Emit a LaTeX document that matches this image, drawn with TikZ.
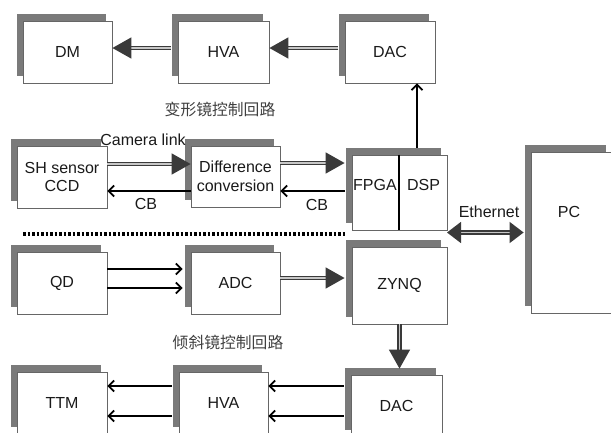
\documentclass[tikz,border=0pt]{standalone}
\usepackage{fontspec}
\setmainfont{Liberation Sans}
\newfontfamily\cjk{Noto Sans CJK SC}
\usetikzlibrary{arrows.meta,shadows,calc}
\definecolor{shade}{HTML}{7A7A7A}
\definecolor{border}{HTML}{666666}
\definecolor{arrowdark}{HTML}{3A3A3A}
\definecolor{txt}{HTML}{1A1A1A}
\begin{document}
\begin{tikzpicture}[x=1pt,y=-1pt,
  blk/.style={draw=border, line width=0.8pt, fill=white, inner sep=0pt, align=center, text=txt,
    font=\fontsize{16}{18.5}\selectfont,
    general shadow={fill=shade, draw=none, shadow xshift=-6.5pt, shadow yshift=7pt}},
  lbl/.style={text=txt, font=\fontsize{16}{18.5}\selectfont, inner sep=0pt},
  cn/.style={text=black!75, font=\cjk\fontsize{15.8}{18}\selectfont, inner sep=0pt},
  dbl/.style={draw=arrowdark, double=black!22, double distance=1.5pt, line width=1.5pt,
    -{Triangle[length=19pt,width=21pt]}},
  thinarrow/.style={draw=black, line width=1.8pt, -{Straight Barb[length=5.5pt,width=11pt]}},
  dotline/.style={draw=black, line width=3.2pt, dash pattern=on 2.6pt off 1.9pt}
]
\useasboundingbox (0,0) rectangle (611,432);
\clip (0,0) rectangle (611,432);

% top row
\node[blk, minimum width=89pt, minimum height=62pt] (dm) at (67.5,52) {DM};
\node[blk, minimum width=91pt, minimum height=62pt] (hvaA) at (223.5,52) {HVA};
\node[blk, minimum width=90pt, minimum height=62pt] (dacA) at (390,52) {DAC};
\node[cn] (t1) at (220,109) {变形镜控制回路};

% second row
\node[blk, minimum width=90pt, minimum height=62pt] (sh) at (62,177) {SH sensor\\CCD};
\node[blk, minimum width=89pt, minimum height=61pt] (diff) at (235.5,176.5) {Difference\\conversion};
\node[blk, minimum width=95pt, minimum height=75pt] (fd) at (399.5,192.5) {};
\node[lbl] (fpga) at (375,185) {FPGA};
\node[lbl] (dsp) at (423.5,185) {DSP};
\draw[line width=2.5pt] ([xshift=-0.5pt]fd.north) -- ([xshift=-0.5pt]fd.south);
\node[blk, minimum width=81pt, minimum height=161pt] (pc) at (571.5,232.5) {};
\node[lbl] (pct) at (569,212) {PC};

% third row
\node[blk, minimum width=95pt, minimum height=77pt] (zynq) at (399.5,285.5) {ZYNQ};
\node[blk, minimum width=90pt, minimum height=62pt] (qd) at (62,283) {QD};
\node[blk, minimum width=89pt, minimum height=62pt] (adc) at (235.5,283) {ADC};
\node[cn] (t2) at (228,342) {倾斜镜控制回路};

% bottom row
\node[blk, minimum width=90pt, minimum height=62pt] (ttm) at (62,403) {TTM};
\node[blk, minimum width=89pt, minimum height=62pt] (hvaB) at (223.5,403) {HVA};
\node[blk, minimum width=91pt, minimum height=62pt] (dacB) at (396.5,406) {DAC};

% connectors top
\draw[dbl, shorten <=6.5pt] ([yshift=4pt]dacA.west) -- ([yshift=4pt]hvaA.east);
\draw[dbl, shorten <=6.5pt] ([yshift=4pt]hvaA.west) -- ([yshift=4pt]dm.east);

% second row connectors
\draw[dbl] ([yshift=13pt]sh.east) -- ([yshift=12.5pt]diff.west);
\node[lbl] (cam) at (143,140) {Camera link};
\draw[thinarrow] ([yshift=-14.5pt]diff.west) -- ([yshift=-14pt]sh.east);
\node[lbl] (cb1) at (146,204) {CB};
\draw[dbl, shorten >=7pt] ([yshift=13.5pt]diff.east) -- ([yshift=29.5pt]fd.west);
\draw[thinarrow, shorten <=7pt] ([yshift=1.5pt]fd.west) -- ([yshift=-14.5pt]diff.east);
\node[lbl] (cb2) at (317,205) {CB};
\draw[thinarrow, shorten <=7pt] ([xshift=17.5pt]fd.north) -- ([xshift=27pt]dacA.south);

% ethernet
\coordinate (ethL) at (447,232.5);
\draw[dbl, {Triangle[length=14pt,width=21pt]}-{Triangle[length=14pt,width=21pt]}, shorten >=7pt] (ethL) -- (pc.west);
\node[lbl] (eth) at (489,212) {Ethernet};

% separator
\draw[dotline] (23,234) -- (346,234);

% third row connectors
\draw[thinarrow, shorten >=8pt] ([yshift=14pt]qd.east) -- ([yshift=14pt]adc.west);
\draw[thinarrow, shorten >=8pt] ([yshift=-5pt]qd.east) -- ([yshift=-5pt]adc.west);
\draw[dbl, shorten >=7pt] ([yshift=5pt]adc.east) -- ([yshift=7.5pt]zynq.west);
\draw[dbl, shorten >=6pt] (zynq.south) -- ([xshift=3pt]dacB.north);

% bottom connectors
\draw[thinarrow, shorten <=6.5pt] ([yshift=20pt]dacB.west) -- ([yshift=17pt]hvaB.east);
\draw[thinarrow, shorten <=6.5pt] ([yshift=-10pt]dacB.west) -- ([yshift=-13pt]hvaB.east);
\draw[thinarrow, shorten <=6.5pt] ([yshift=17pt]hvaB.west) -- ([yshift=17pt]ttm.east);
\draw[thinarrow, shorten <=6.5pt] ([yshift=-13pt]hvaB.west) -- ([yshift=-13pt]ttm.east);
\end{tikzpicture}
\end{document}
